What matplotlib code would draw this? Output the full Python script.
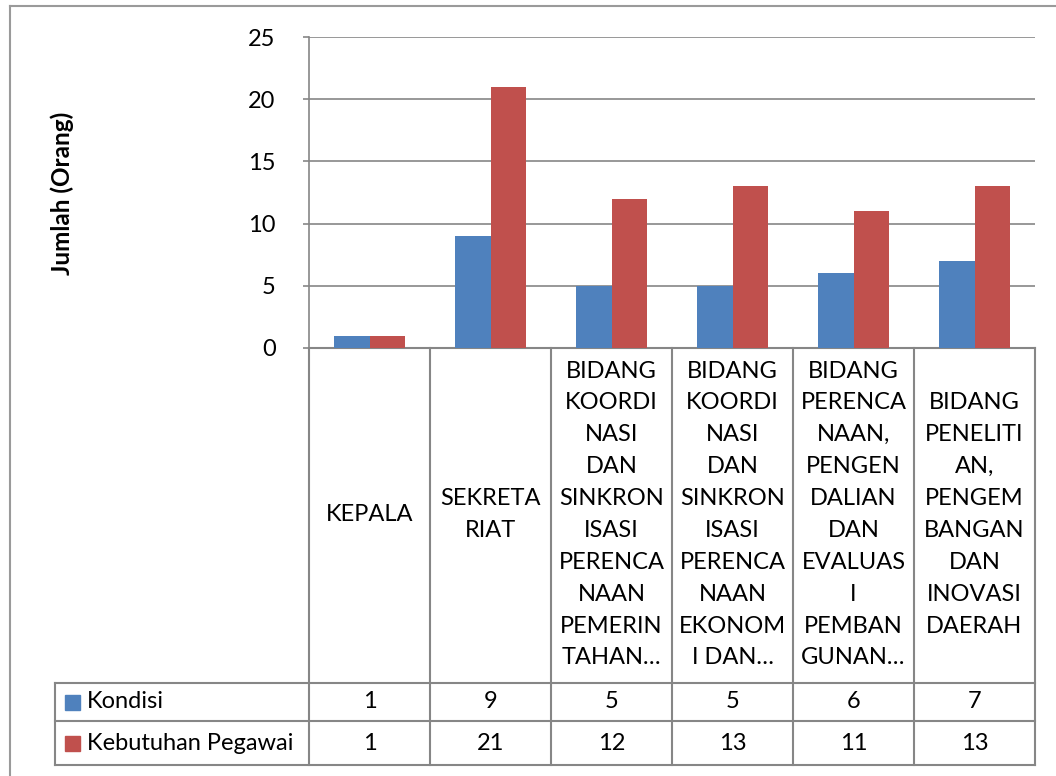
import numpy as np
import matplotlib.pyplot as plt
from matplotlib.patches import Rectangle

categories = [
    "KEPALA",
    "SEKRETA\nRIAT",
    "BIDANG\nKOORDI\nNASI\nDAN\nSINKRON\nISASI\nPERENCA\nNAAN\nPEMERIN\nTAHAN…",
    "BIDANG\nKOORDI\nNASI\nDAN\nSINKRON\nISASI\nPERENCA\nNAAN\nEKONOM\nI DAN…",
    "BIDANG\nPERENCA\nNAAN,\nPENGEN\nDALIAN\nDAN\nEVALUAS\nI\nPEMBAN\nGUNAN…",
    "BIDANG\nPENELITI\nAN,\nPENGEM\nBANGAN\nDAN\nINOVASI\nDAERAH",
]
series_names = ["Kondisi", "Kebutuhan Pegawai"]
kondisi = [1, 9, 5, 5, 6, 7]
kebutuhan = [1, 21, 12, 13, 11, 13]
yticks = [0, 5, 10, 15, 20, 25]

blue = "#4F81BD"
red = "#C0504D"
grid_c = "#868686"
font = "Lato"
fs = 17

W, H = 1056, 776
fig = plt.figure(figsize=(W / 100, H / 100), dpi=100)

# pixel layout
x0, x1 = 309, 1035
y_top, y_zero = 37, 348
row_cat_bot, row1_bot, row2_bot = 683, 721, 765
leg_left = 55

ax = fig.add_axes([x0 / W, 1 - y_zero / H, (x1 - x0) / W, (y_zero - y_top) / H])
n = len(categories)
xs = np.arange(n)
bw = 0.29
ax.bar(xs - bw / 2, kondisi, bw, color=blue, zorder=3)
ax.bar(xs + bw / 2, kebutuhan, bw, color=red, zorder=3)
ax.set_xlim(-0.5, n - 0.5)
ax.set_ylim(0, 25)
ax.set_yticks(yticks)
ax.set_yticklabels([str(v) for v in yticks], fontsize=fs, family=font)
ax.yaxis.grid(True, color=grid_c, lw=1.2, zorder=0)
ax.set_xticks([])
for s in ["top", "right", "bottom"]:
    ax.spines[s].set_visible(False)
ax.spines["left"].set_color(grid_c)
ax.spines["left"].set_linewidth(1.2)
ax.tick_params(axis="y", length=4, color=grid_c, width=1.2, pad=20)
ax.set_facecolor("none")

# overlay in pixel coordinates for the data table
ov = fig.add_axes([0, 0, 1, 1], zorder=-1)
ov.set_xlim(0, W)
ov.set_ylim(H, 0)
ov.axis("off")

lc = dict(color=grid_c, lw=1.5)
colw = (x1 - x0) / n
# outer chart border
ov.plot([10, W], [6, 6], color="#9a9a9a", lw=1.5)
ov.plot([10, 10], [6, H], color="#9a9a9a", lw=1.5)
# vertical lines
for i in range(n + 1):
    xv = x0 + i * colw
    ov.plot([xv, xv], [y_zero, row2_bot], **lc)
ov.plot([leg_left, leg_left], [row_cat_bot, row2_bot], **lc)
# horizontal lines
ov.plot([x0, x1], [y_zero, y_zero], **lc)
for yv in [row_cat_bot, row1_bot, row2_bot]:
    ov.plot([leg_left, x1], [yv, yv], **lc)

# category labels
for i, c in enumerate(categories):
    ov.text(x0 + (i + 0.5) * colw, (y_zero + row_cat_bot) / 2 - 1, c, ha="center", va="center",
            fontsize=fs, family=font, linespacing=1.64)

# data rows
rows = [(kondisi, blue, row_cat_bot, row1_bot), (kebutuhan, red, row1_bot, row2_bot)]
for name, (vals, col, ya, yb) in zip(series_names, rows):
    yc = (ya + yb) / 2
    ov.add_patch(Rectangle((65, yc - 7), 15, 15, color=col))
    ov.text(87, yc, name, ha="left", va="center", fontsize=fs, family=font)
    for i, v in enumerate(vals):
        ov.text(x0 + (i + 0.5) * colw, yc, str(v), ha="center", va="center", fontsize=fs, family=font)

ov.text(62, 193, "Jumlah (Orang)", rotation=90, ha="center", va="center",
        fontsize=17.5, family=font, fontweight="bold")

fig.savefig("out.png", dpi=100)
